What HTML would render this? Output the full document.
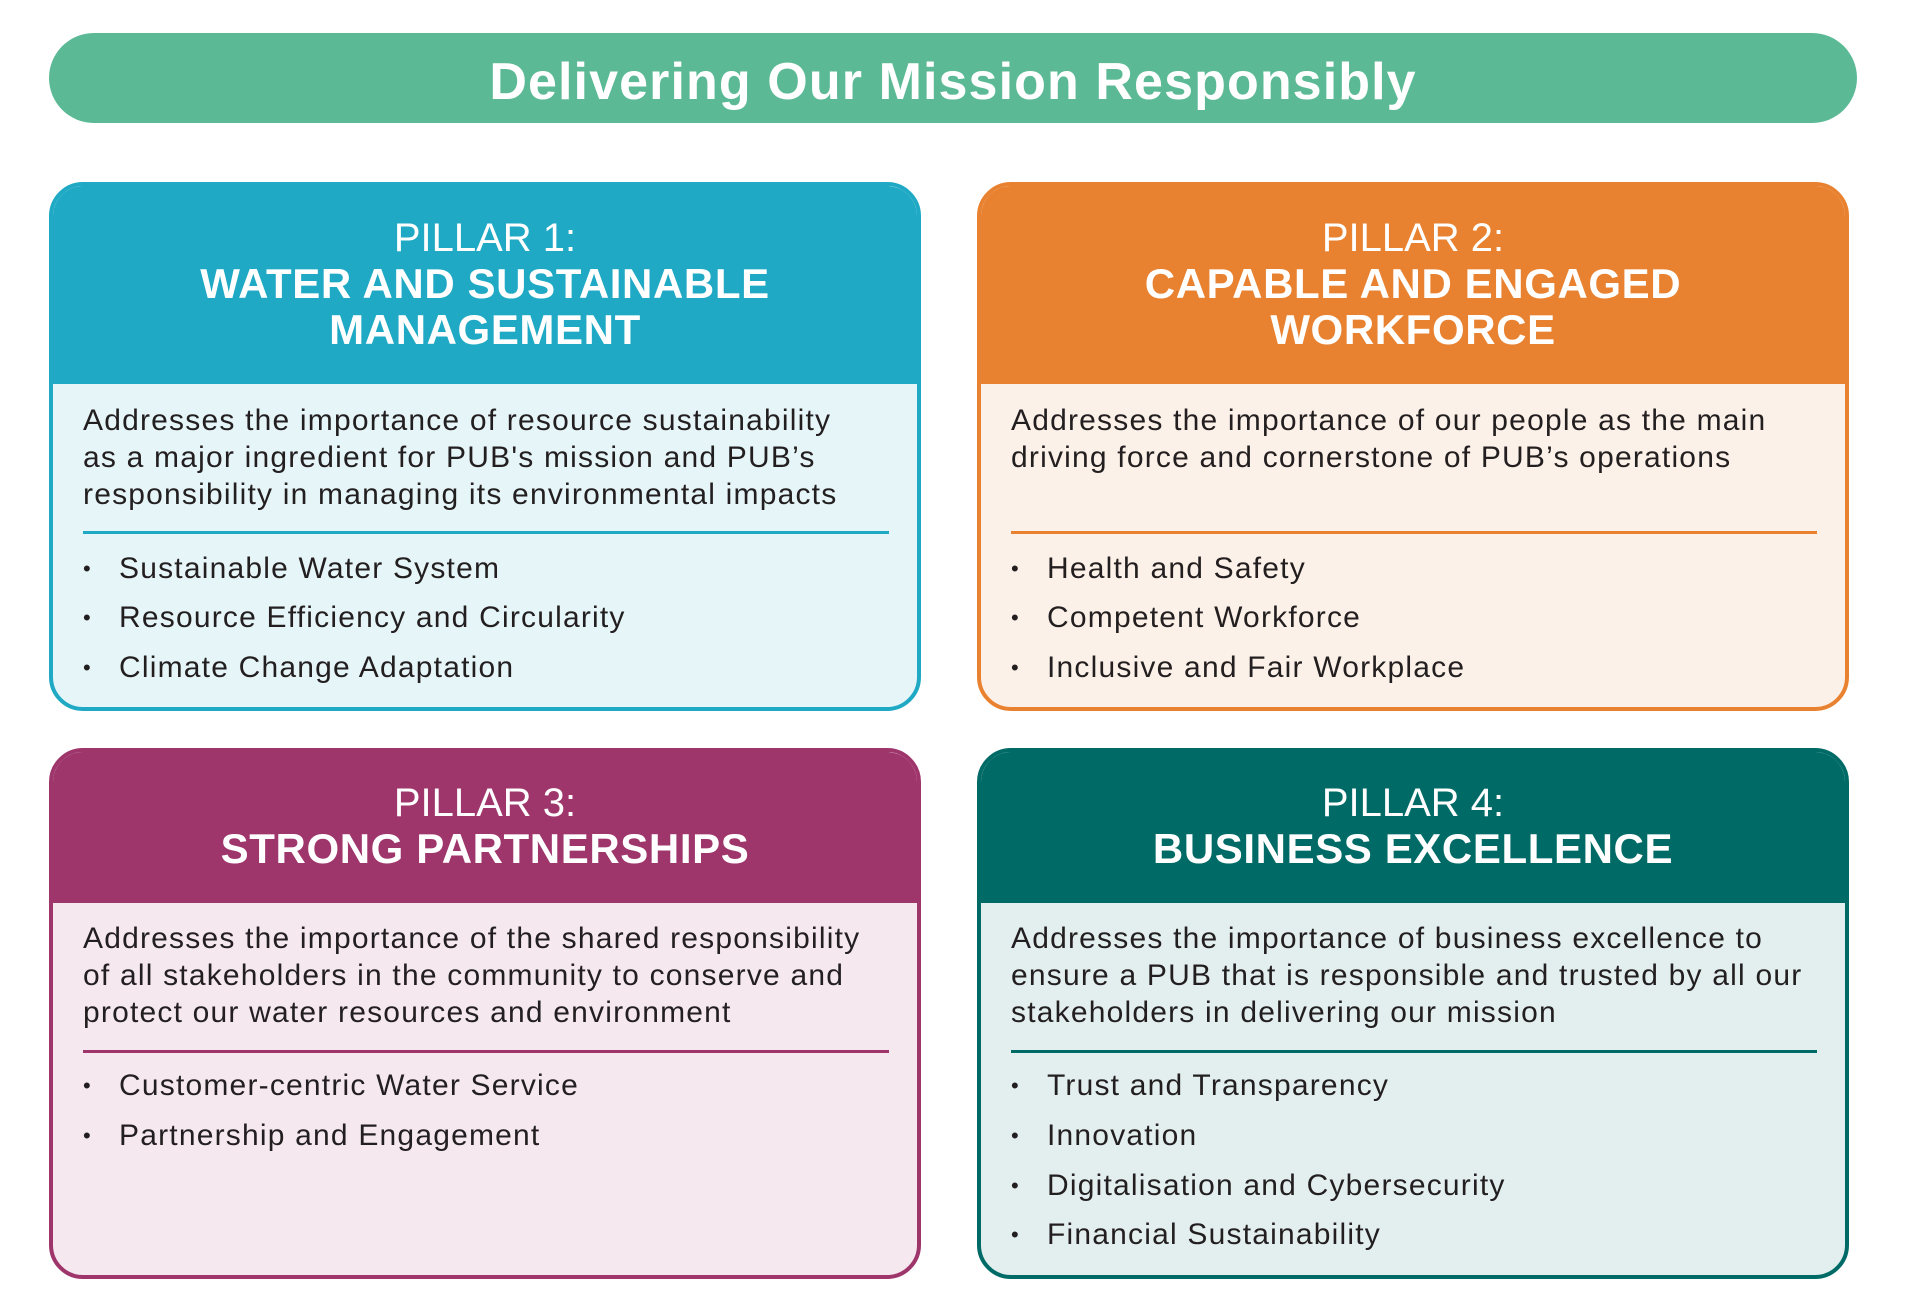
<!DOCTYPE html>
<html><head><meta charset="utf-8"><style>
*{margin:0;padding:0;box-sizing:border-box}
body{width:1905px;height:1312px;background:#fff;position:relative;font-family:"Liberation Sans",sans-serif;color:#231f20;overflow:hidden}
.banner{position:absolute;left:49px;top:33px;width:1808px;height:90px;border-radius:45px;background:#5bba95;color:#fff;font-weight:bold;font-size:52px;text-align:center;line-height:98px;letter-spacing:1.1px}
.card{position:absolute;width:872px;border:4px solid;border-radius:34px;overflow:hidden}
.hd{position:absolute;left:0;right:0;top:0;color:#fff;text-align:center}
.hd .l{font-size:40px;line-height:46px}
.hd .b{font-size:42px;line-height:46px;font-weight:bold;letter-spacing:0.6px}
.t{position:absolute;white-space:nowrap;font-size:30px;line-height:37px;letter-spacing:1.2px}
.rule{position:absolute;height:3px}
.bl{position:absolute;white-space:nowrap;font-size:30px;line-height:40px;letter-spacing:1.2px}
.bl:before{content:"•";position:absolute;left:-36px;font-size:22px;letter-spacing:0}
</style></head><body>
<div class="banner">Delivering Our Mission Responsibly</div>

<div class="card" style="left:49px;top:182px;height:529px;border-color:#1fa9c4;background:#e6f5f8">
 <div class="hd" style="height:198px;background:#1fa9c4;padding-top:29px"><div class="l">PILLAR 1:</div><div class="b">WATER AND SUSTAINABLE<br>MANAGEMENT</div></div>
 <div class="t" style="left:30px;top:216px">Addresses the importance of resource sustainability<br>as a major ingredient for PUB's mission and PUB’s<br>responsibility in managing its environmental impacts</div>
 <div class="rule" style="left:30px;width:806px;top:345px;background:#1fa9c4"></div>
 <div class="bl" style="left:66px;top:363px">Sustainable Water System</div>
 <div class="bl" style="left:66px;top:412px">Resource Efficiency and Circularity</div>
 <div class="bl" style="left:66px;top:462px">Climate Change Adaptation</div>
</div>

<div class="card" style="left:977px;top:182px;height:529px;border-color:#e98230;background:#fcf1e8">
 <div class="hd" style="height:198px;background:#e98230;padding-top:29px"><div class="l">PILLAR 2:</div><div class="b">CAPABLE AND ENGAGED<br>WORKFORCE</div></div>
 <div class="t" style="left:30px;top:216px">Addresses the importance of our people as the main<br>driving force and cornerstone of PUB’s operations</div>
 <div class="rule" style="left:30px;width:806px;top:345px;background:#e98230"></div>
 <div class="bl" style="left:66px;top:363px">Health and Safety</div>
 <div class="bl" style="left:66px;top:412px">Competent Workforce</div>
 <div class="bl" style="left:66px;top:462px">Inclusive and Fair Workplace</div>
</div>

<div class="card" style="left:49px;top:748px;height:531px;border-color:#9e356b;background:#f5e9ef">
 <div class="hd" style="height:151px;background:#9e356b;padding-top:28px"><div class="l">PILLAR 3:</div><div class="b">STRONG PARTNERSHIPS</div></div>
 <div class="t" style="left:30px;top:168px">Addresses the importance of the shared responsibility<br>of all stakeholders in the community to conserve and<br>protect our water resources and environment</div>
 <div class="rule" style="left:30px;width:806px;top:298px;background:#9e356b"></div>
 <div class="bl" style="left:66px;top:314px">Customer-centric Water Service</div>
 <div class="bl" style="left:66px;top:364px">Partnership and Engagement</div>
</div>

<div class="card" style="left:977px;top:748px;height:531px;border-color:#006b66;background:#e3efef">
 <div class="hd" style="height:151px;background:#006b66;padding-top:28px"><div class="l">PILLAR 4:</div><div class="b">BUSINESS EXCELLENCE</div></div>
 <div class="t" style="left:30px;top:168px">Addresses the importance of business excellence to<br>ensure a PUB that is responsible and trusted by all our<br>stakeholders in delivering our mission</div>
 <div class="rule" style="left:30px;width:806px;top:298px;background:#006b66"></div>
 <div class="bl" style="left:66px;top:314px">Trust and Transparency</div>
 <div class="bl" style="left:66px;top:364px">Innovation</div>
 <div class="bl" style="left:66px;top:414px">Digitalisation and Cybersecurity</div>
 <div class="bl" style="left:66px;top:463px">Financial Sustainability</div>
</div>
</body></html>
